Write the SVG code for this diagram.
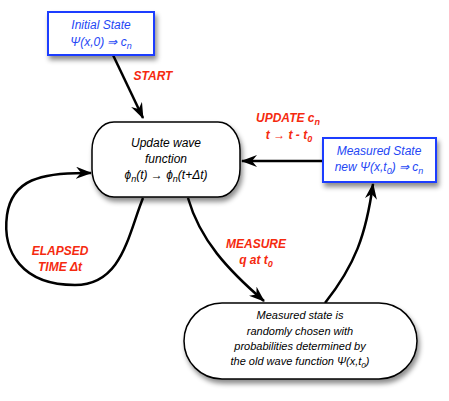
<svg xmlns="http://www.w3.org/2000/svg" width="449" height="401" viewBox="0 0 449 401">
<defs>
<filter id="sh" x="-20%" y="-20%" width="140%" height="160%">
<feDropShadow dx="2" dy="4" stdDeviation="2.5" flood-color="#000" flood-opacity="0.45"/>
</filter>
<marker id="ah" viewBox="0 0 16 12" refX="15" refY="6" markerWidth="16" markerHeight="12" markerUnits="userSpaceOnUse" orient="auto">
<path d="M0,0 L16,6 L0,12 L5,6 z" fill="#000"/>
</marker>
<style>
.blue{fill:#fff;stroke:#1f3dff;stroke-width:2;filter:url(#sh)}
.node{fill:#fff;stroke:#000;stroke-width:1.5;filter:url(#sh)}
.bt{font-family:"Liberation Sans",Arial,sans-serif;font-style:italic;font-size:12px;fill:#2447f5;text-anchor:middle}
.nt{font-family:"Liberation Sans",Arial,sans-serif;font-style:italic;font-size:12px;fill:#000;text-anchor:middle}
.st{font-family:"Liberation Sans",Arial,sans-serif;font-style:italic;font-size:11px;fill:#000;text-anchor:middle}
.lb{font-family:"Liberation Sans",Arial,sans-serif;font-style:italic;font-weight:bold;font-size:12px;fill:#f52a0f;text-anchor:middle}
.c{fill:none;stroke:#000;stroke-width:2.5;marker-end:url(#ah)}
</style>
</defs>
<g id="connectors">
<path class="c" d="M113,55 L143,118"/>
<path class="c" d="M323,161 L242,161"/>
<path class="c" d="M143,198 C128,235 122,285 75,285 C22,285 2,252 7,215 C12,180 40,172 91,173"/>
<path class="c" d="M188,198 C200,240 228,270 264,301"/>
<path class="c" d="M325,303 C355,265 366,235 373,184"/>
</g>
<g id="labels">
<text class="lb" x="153" y="80">START</text>
<text class="lb" x="288" y="122">UPDATE c<tspan font-size="9" dy="3">n</tspan></text>
<text class="lb" x="289" y="139">t → t - t<tspan font-size="9" dy="3">0</tspan></text>
<text class="lb" x="60" y="255">ELAPSED</text>
<text class="lb" x="60" y="271">TIME Δt</text>
<text class="lb" x="256" y="248">MEASURE</text>
<text class="lb" x="256" y="264">q at t<tspan font-size="9" dy="3">0</tspan></text>
</g>
<g id="initial-state">
<rect class="blue" x="48" y="12" width="106" height="43"/>
<text class="bt" x="101" y="29">Initial State</text>
<text class="bt" x="101" y="46">Ψ(x,0) ⇒ c<tspan font-size="9" dy="3">n</tspan></text>
</g>
<g id="update-wave">
<rect class="node" x="92" y="122" width="148" height="75" rx="22" ry="28"/>
<text class="nt" x="166" y="147">Update wave</text>
<text class="nt" x="166" y="163">function</text>
<text class="nt" x="166" y="179">ϕ<tspan font-size="9" dy="3">n</tspan><tspan dy="-3">(t) → ϕ</tspan><tspan font-size="9" dy="3">n</tspan><tspan dy="-3">(t+Δt)</tspan></text>
</g>
<g id="measured-state">
<rect class="blue" x="323" y="138" width="113" height="44"/>
<text class="bt" x="379" y="155">Measured State</text>
<text class="bt" x="379" y="171">new Ψ(x,t<tspan font-size="9" dy="3">0</tspan><tspan dy="-3">) ⇒ c</tspan><tspan font-size="9" dy="3">n</tspan></text>
</g>
<g id="random-choice">
<rect class="node" x="184" y="303" width="233" height="76" rx="38" ry="38"/>
<text class="st" x="300" y="319">Measured state is</text>
<text class="st" x="300" y="335">randomly chosen with</text>
<text class="st" x="300" y="350">probabilities determined by</text>
<text class="st" x="300" y="365">the old wave function Ψ(x,t<tspan font-size="8" dy="3">0</tspan><tspan dy="-3">)</tspan></text>
</g>
</svg>
